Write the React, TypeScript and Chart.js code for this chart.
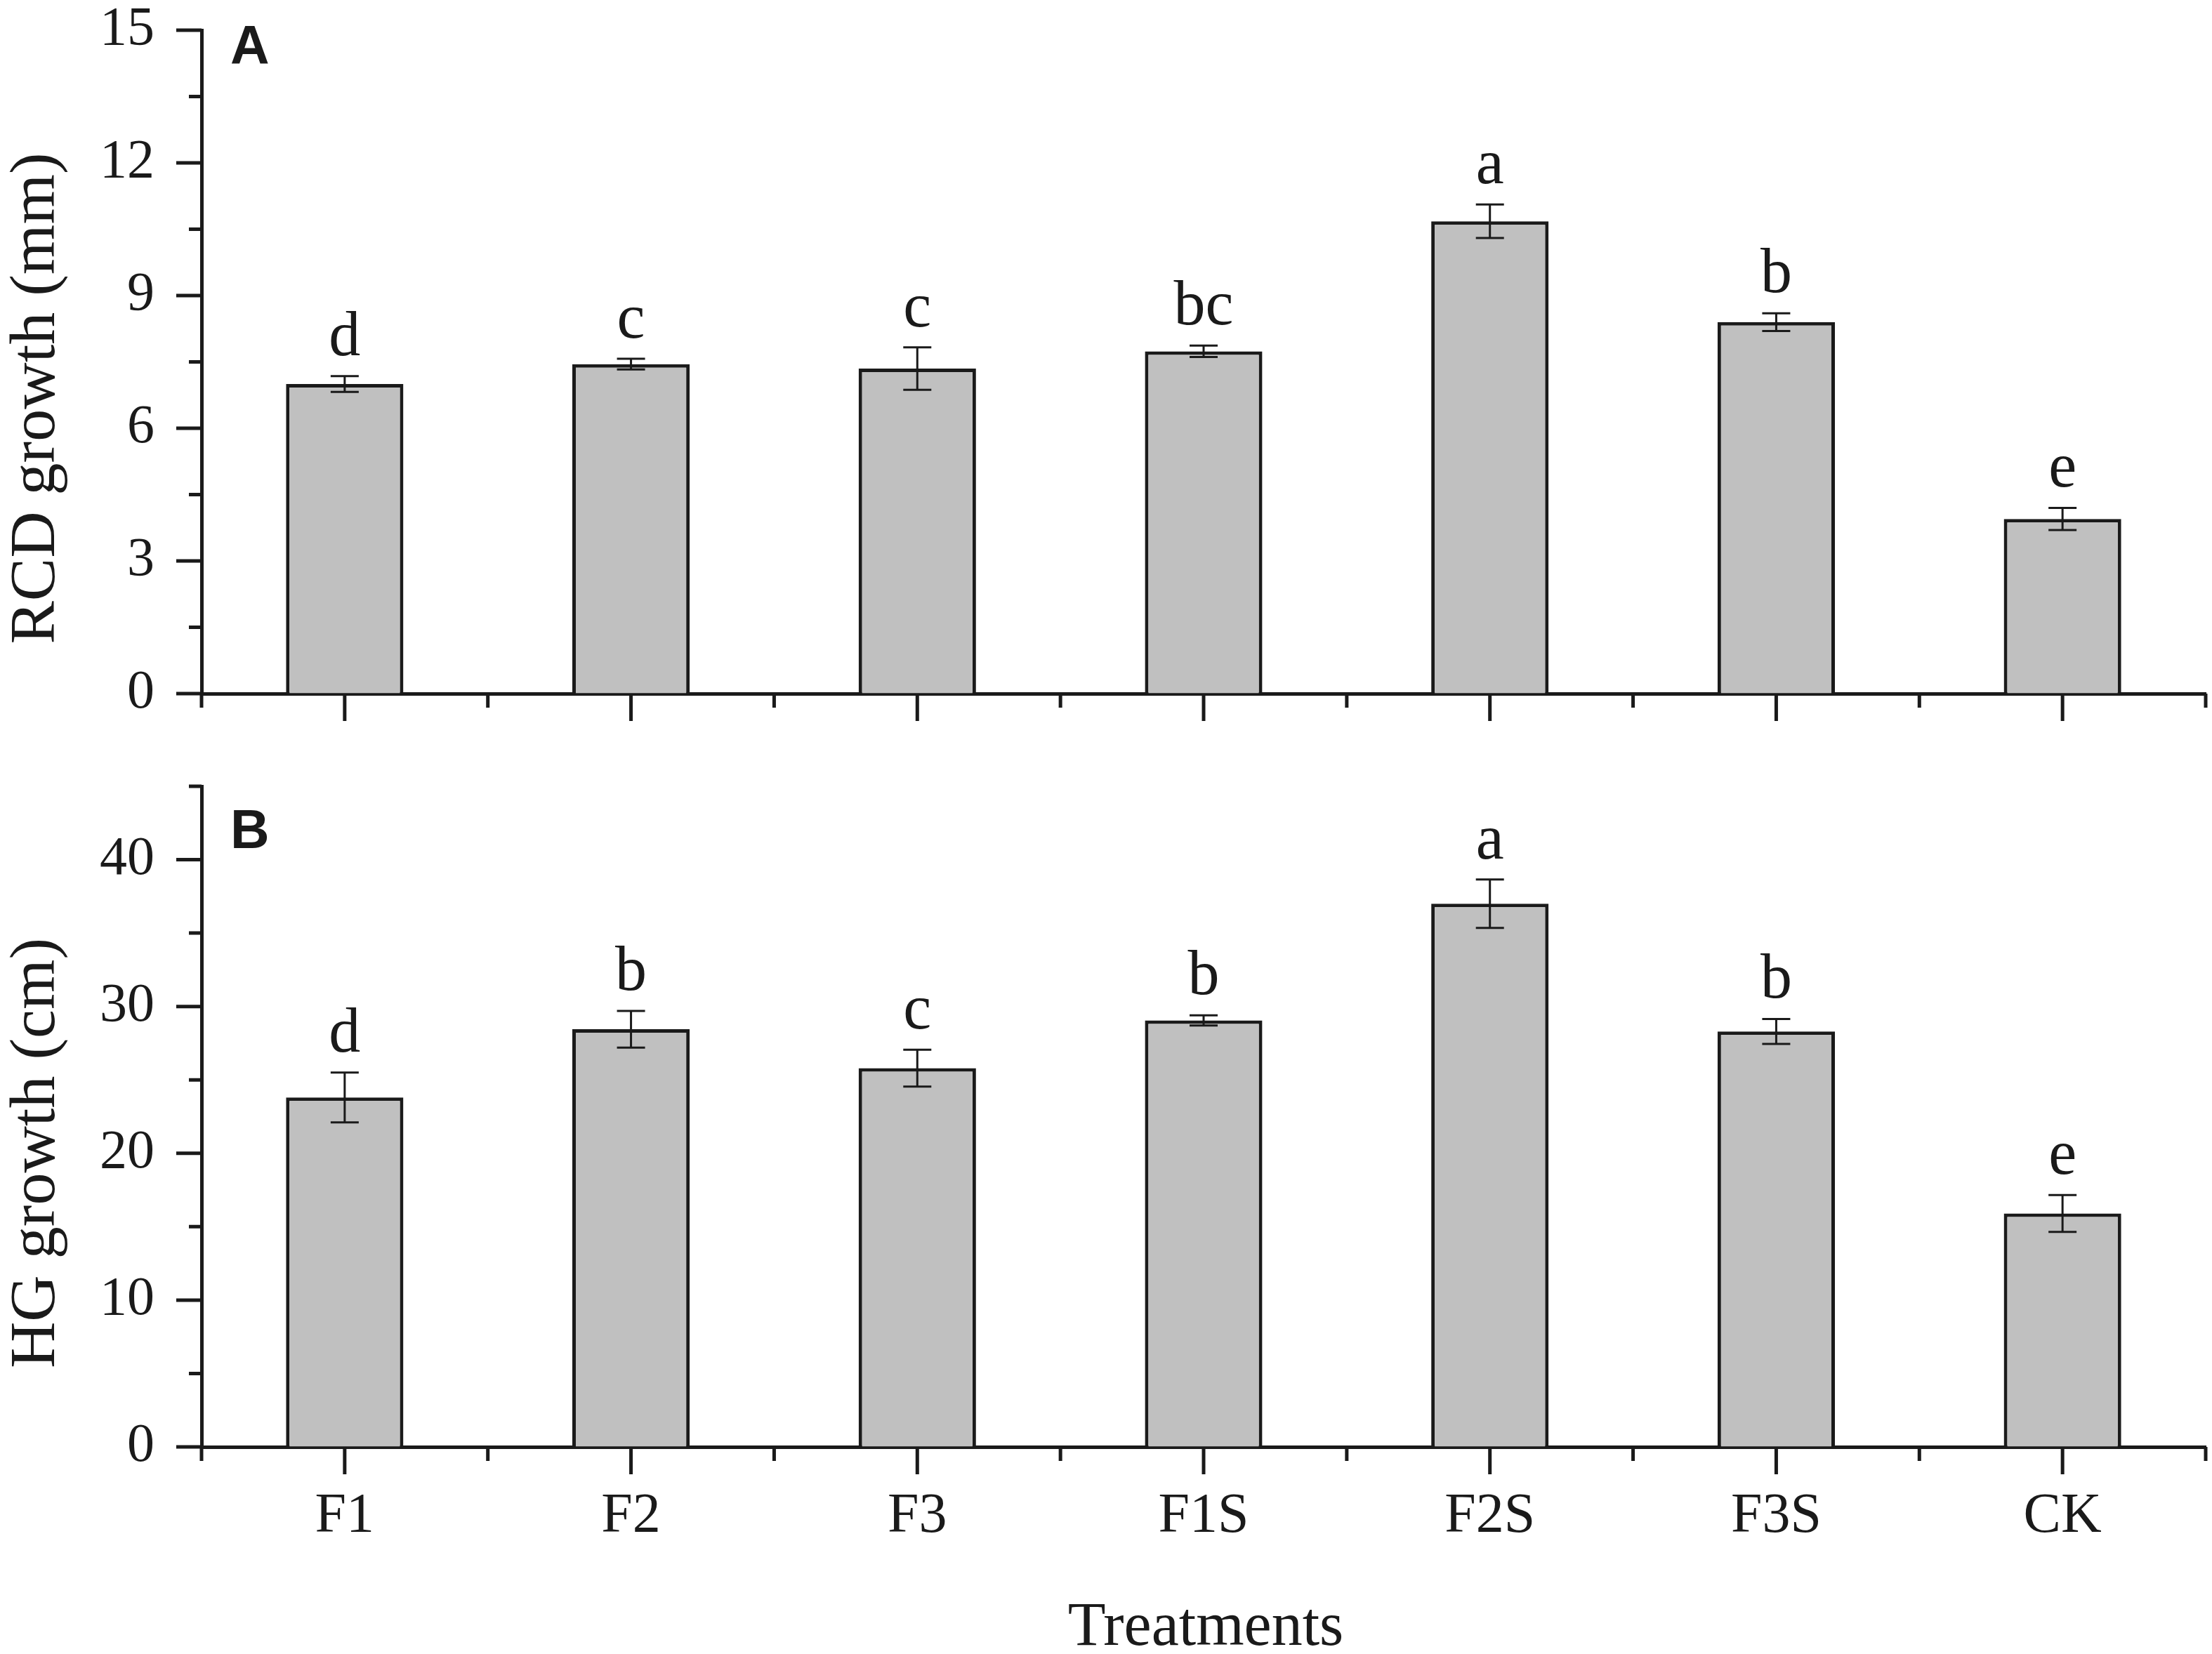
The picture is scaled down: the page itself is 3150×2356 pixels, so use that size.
import { useEffect, useRef } from "react";
import { Chart, registerables } from "chart.js";

Chart.register(...registerables);

// data
const treatments = ["F1", "F2", "F3", "F1S", "F2S", "F3S", "CK"];

const rcdGrowth = [7.0, 7.45, 7.35, 7.74, 10.68, 8.4, 3.95];
const rcdError = [0.18, 0.12, 0.48, 0.13, 0.38, 0.2, 0.25];
const rcdLetters = ["d", "c", "c", "bc", "a", "b", "e"];

const hgGrowth = [23.8, 28.45, 25.8, 29.05, 37.0, 28.3, 15.9];
const hgError = [1.7, 1.25, 1.25, 0.35, 1.65, 0.85, 1.25];
const hgLetters = ["d", "b", "c", "b", "a", "b", "e"];

const SERIF = '"Liberation Serif", "Times New Roman", serif';
const SANS = '"Liberation Sans", Arial, sans-serif';
const INK = "#1a1a1a";

interface PanelProps {
    top: number;
    height: number;
    padTop: number;
    xHeight: number;
    values: number[];
    errors: number[];
    letters: string[];
    yMax: number;
    yStep: number;
    yTitle: string;
    panel: string;
    panelY: number;
    showLabels?: boolean;
    xTitle?: string;
}

function Panel(props: PanelProps) {
    const canvasRef: any = useRef(null);

    useEffect(() => {
        if (!canvasRef?.current) return;

        const decor = {
            id: "decor",
            afterDatasetsDraw: (chart: any) => {
                const ctx = chart.ctx;
                const y = chart.scales.y;
                const meta = chart.getDatasetMeta(0);
                ctx.save();
                ctx.strokeStyle = INK;
                ctx.fillStyle = INK;
                ctx.lineWidth = 3;
                ctx.font = `90px ${SERIF}`;
                ctx.textAlign = "center";
                ctx.textBaseline = "alphabetic";
                meta.data.forEach((bar: any, i: number) => {
                    const hi = y.getPixelForValue(props.values[i] + props.errors[i]);
                    const lo = y.getPixelForValue(props.values[i] - props.errors[i]);
                    const x = bar.x;
                    ctx.beginPath();
                    ctx.moveTo(x, hi);
                    ctx.lineTo(x, lo);
                    ctx.moveTo(x - 20, hi);
                    ctx.lineTo(x + 20, hi);
                    ctx.moveTo(x - 20, lo);
                    ctx.lineTo(x + 20, lo);
                    ctx.stroke();
                    ctx.fillText(props.letters[i], x, hi - 30);
                });
                ctx.restore();
            },
            afterDraw: (chart: any) => {
                const { ctx, chartArea: area, scales } = chart;
                ctx.save();
                ctx.strokeStyle = INK;
                ctx.lineWidth = 5;
                ctx.beginPath();
                // y ticks, major + minor (outward)
                const half = props.yStep / 2;
                const count = Math.round(props.yMax / half);
                for (let k = 0; k <= count; k++) {
                    const py = scales.y.getPixelForValue(k * half);
                    const len = k % 2 === 0 ? 36 : 18;
                    ctx.moveTo(area.left - len, py);
                    ctx.lineTo(area.left, py);
                }
                // x ticks: major at categories, minor between
                const n = treatments.length;
                for (let i = 0; i < n; i++) {
                    const px = scales.x.getPixelForValue(i);
                    ctx.moveTo(px, area.bottom);
                    ctx.lineTo(px, area.bottom + 39);
                }
                for (let i = 0; i <= n; i++) {
                    const px = scales.x.getPixelForValue(i - 0.5);
                    ctx.moveTo(px, area.bottom);
                    ctx.lineTo(px, area.bottom + 20);
                }
                ctx.stroke();

                ctx.fillStyle = INK;
                // y title
                ctx.save();
                ctx.translate(77, (area.top + area.bottom) / 2 + 52);
                ctx.rotate(-Math.PI / 2);
                ctx.font = `92px ${SERIF}`;
                ctx.textAlign = "center";
                ctx.textBaseline = "alphabetic";
                ctx.fillText(props.yTitle, 0, 0);
                ctx.restore();

                // panel letter
                ctx.font = `bold 77px ${SANS}`;
                ctx.textAlign = "left";
                ctx.textBaseline = "alphabetic";
                ctx.fillText(props.panel, 328, props.panelY);

                // x title
                if (props.xTitle) {
                    ctx.font = `88px ${SERIF}`;
                    ctx.textAlign = "center";
                    ctx.fillText(props.xTitle, (area.left + area.right) / 2 + 3, props.height - 13);
                }
                ctx.restore();
            },
        };

        const chart = new Chart(canvasRef.current.getContext("2d"), {
            type: "bar",
            data: {
                labels: treatments,
                datasets: [
                    {
                        data: props.values,
                        backgroundColor: "#c0c0c0",
                        borderColor: INK,
                        borderWidth: 5,
                        borderSkipped: "start",
                        barPercentage: 0.41,
                        categoryPercentage: 1,
                    },
                ],
            },
            options: {
                animation: false,
                responsive: false,
                devicePixelRatio: 1,
                layout: { padding: { top: props.padTop, right: 9, left: 0, bottom: 0 } },
                plugins: {
                    legend: { display: false },
                    tooltip: { enabled: false },
                    title: { display: false },
                },
                scales: {
                    x: {
                        type: "category",
                        offset: true,
                        z: 1,
                        grid: { display: true, drawOnChartArea: false, drawTicks: false },
                        border: { display: true, width: 5, color: INK },
                        ticks: {
                            display: !!props.showLabels,
                            autoSkip: false,
                            maxRotation: 0,
                            padding: 52,
                            color: INK,
                            font: { family: SERIF, size: 80, lineHeight: 1.2 },
                        },
                        afterFit: (s: any) => {
                            s.height = props.xHeight;
                            s.paddingLeft = 0;
                            s.paddingRight = 0;
                        },
                    },
                    y: {
                        type: "linear",
                        min: 0,
                        max: props.yMax,
                        z: 1,
                        grid: { display: true, drawOnChartArea: false, drawTicks: false },
                        border: { display: true, width: 5, color: INK },
                        ticks: {
                            stepSize: props.yStep,
                            padding: 67,
                            color: INK,
                            font: { family: SERIF, size: 78, lineHeight: 1.2 },
                        },
                        afterBuildTicks: (s: any) => {
                            s.ticks = s.ticks.filter(
                                (t: any) => Math.abs(t.value / props.yStep - Math.round(t.value / props.yStep)) < 1e-6
                            );
                        },
                        afterFit: (s: any) => {
                            s.width = 287;
                            s.paddingTop = 0;
                            s.paddingBottom = 0;
                        },
                    },
                },
            },
            plugins: [decor],
        } as any);

        return () => {
            chart.destroy();
        };
    }, []);

    return (
        <canvas
            ref={canvasRef}
            width={3150}
            height={props.height}
            style={{ position: "absolute", left: 0, top: props.top, width: 3150, height: props.height }}
        />
    );
}

export default function App() {
    return (
        <div style={{ position: "absolute", left: 0, top: 0, width: 3150, height: 2356, background: "#fff" }}>
            <Panel
                top={0}
                height={1050}
                padTop={43}
                xHeight={62}
                values={rcdGrowth}
                errors={rcdError}
                letters={rcdLetters}
                yMax={15}
                yStep={3}
                yTitle="RCD growth (mm)"
                panel="A"
                panelY={91}
            />
            <Panel
                top={1080}
                height={1276}
                padTop={40}
                xHeight={295}
                values={hgGrowth}
                errors={hgError}
                letters={hgLetters}
                yMax={45}
                yStep={10}
                yTitle="HG growth (cm)"
                panel="B"
                panelY={128}
                showLabels
                xTitle="Treatments"
            />
        </div>
    );
}
